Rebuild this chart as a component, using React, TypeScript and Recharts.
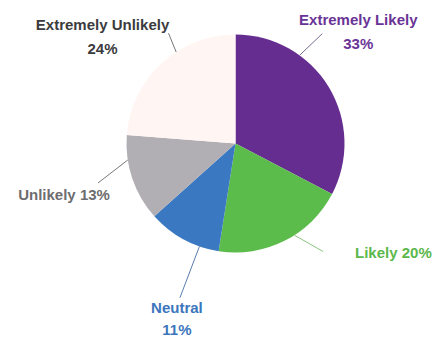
import { Pie, PieChart, Cell } from "recharts";

const categories = ["Extremely Likely", "Likely", "Neutral", "Unlikely", "Extremely Unlikely"];
const shares = [33, 20, 11, 13, 24];
const percentLabels = ["33%", "20%", "11%", "13%", "24%"];

const sliceColors = ["#662d91", "#5cbc4b", "#3a78c1", "#b1afb3", "#fff5f2"];
const textColors = ["#6a3497", "#5cb84b", "#3b76bd", "#6d6d6f", "#3b3b3d"];
const lineColors = ["#7b6a93", "#8cc482", "#5a7fae", "#777777", "#777777"];

// label layout: angle nudge at slice edge, end angle nudge, end radius, text offset, two lines?
const labelLayout = [
  { a1: 22.8, a2: 20.5, r2: 140, dx: 36, dy: -14, gap: 24, two: true, anchor: "middle" },
  { a1: 6, a2: 12.3, r2: 139, dx: 32, dy: 1, gap: 0, two: false, anchor: "start" },
  { a1: 9.2, a2: 8.7, r2: 164, dx: -3, dy: 10, gap: 22, two: true, anchor: "middle" },
  { a1: -10, a2: -2.7, r2: 143, dx: -34, dy: 12, gap: 0, two: false, anchor: "middle" },
  { a1: -9.8, a2: -11.5, r2: 129, dx: -66, dy: -9, gap: 24, two: true, anchor: "middle" },
];

const data = categories.map((name, i) => ({ name, value: shares[i], pct: percentLabels[i] }));

const RAD = Math.PI / 180;
const polar = (cx: number, cy: number, r: number, deg: number) => ({
  x: cx + r * Math.cos(-deg * RAD),
  y: cy + r * Math.sin(-deg * RAD),
});

function renderLabel(props: any) {
  const { cx, cy, midAngle, outerRadius, index } = props;
  const l = labelLayout[index];
  const p1 = polar(cx, cy, outerRadius, midAngle + l.a1);
  const p2 = polar(cx, cy, l.r2, midAngle + l.a2);
  const tx = p2.x + l.dx;
  const ty = p2.y + l.dy;
  const common = {
    fill: textColors[index],
    fontSize: 15,
    fontWeight: 700,
    fontFamily: "'Liberation Sans', Arial, sans-serif",
    textAnchor: l.anchor as any,
    dominantBaseline: "central" as any,
  };
  return (
    <g key={`lbl-${index}`}>
      <line x1={p1.x} y1={p1.y} x2={p2.x} y2={p2.y} stroke={lineColors[index]} strokeWidth={1} />
      {l.two ? (
        <>
          <text x={tx} y={ty} {...common}>{categories[index]}</text>
          <text x={tx} y={ty + l.gap} {...common}>{percentLabels[index]}</text>
        </>
      ) : (
        <text x={tx} y={ty} {...common}>{`${categories[index]} ${percentLabels[index]}`}</text>
      )}
    </g>
  );
}

export default function App() {
  return (
    <div style={{ position: "absolute", left: 0, top: 0, width: 435, height: 339, background: "#fff" }}>
      <PieChart width={435} height={339} margin={{ top: 0, right: 0, bottom: 0, left: 0 }}>
        <Pie
          data={data}
          dataKey="value"
          nameKey="name"
          cx={235.5}
          cy={143.5}
          outerRadius={109}
          startAngle={90}
          endAngle={-270}
          stroke="none"
          label={renderLabel}
          labelLine={false}
          isAnimationActive={false}
        >
          {data.map((d, i) => (
            <Cell key={d.name} fill={sliceColors[i]} />
          ))}
        </Pie>
      </PieChart>
    </div>
  );
}
